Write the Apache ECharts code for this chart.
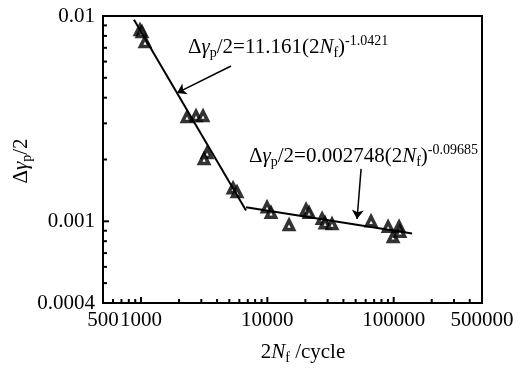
<!DOCTYPE html>
<html>
<head>
<meta charset="utf-8">
<script src="https://cdn.jsdelivr.net/npm/echarts@6/dist/echarts.min.js"></script>
<style>html,body{margin:0;padding:0;background:#fff}#c{width:532px;height:370px}</style>
</head>
<body>
<div id="c"></div>
<script>
// ---- data ----
const cycles = [982, 1018, 1075, 2312, 2725, 3097, 3330, 3155, 5350, 5754, 9940, 10690, 14850, 20240, 21370, 27100, 28640, 32500, 66200, 90300, 98900, 110300, 112200];
const strain = [0.00855, 0.00836, 0.00747, 0.00322, 0.00326, 0.00326, 0.00215, 0.00201, 0.00145, 0.00139, 0.00117, 0.00110, 0.00096, 0.00114, 0.00110, 0.00103, 0.00098, 0.00097, 0.00100, 0.00094, 0.00084, 0.00094, 0.00089];
const fit1X = [880, 6780];
const fit1Y = [0.0096, 0.00113];
const fit2X = [6780, 139800];
const fit2Y = [0.00117, 0.000872];
const arrow1 = [[5158, 0.00571], [1927, 0.00422]];
const arrow2 = [[55200, 0.0018], [51300, 0.001026]];
const xTickValues = [500, 1000, 10000, 100000, 500000];
const xTickLabels = ['500', '1000', '10000', '100000', '500000'];
const xMinorTicks = [600, 700, 800, 900, 2000, 3000, 4000, 5000, 6000, 7000, 8000, 9000, 20000, 30000, 40000, 50000, 60000, 70000, 80000, 90000, 200000, 300000, 400000];
const yTickValues = [0.0004, 0.001, 0.01];
const yTickLabels = ['0.0004', '0.001', '0.01'];
const yMinorTicks = [0.0005, 0.0006, 0.0007, 0.0008, 0.0009, 0.002, 0.003, 0.004, 0.005, 0.006, 0.007, 0.008, 0.009];

const FONT = 'Liberation Serif';
const X_MIN = xTickValues[0], X_MAX = xTickValues[xTickValues.length - 1];
const Y_MIN = yTickValues[0], Y_MAX = yTickValues[yTickValues.length - 1];

function labelFor(vals, labels) {
  return function (v) {
    let best = 0, bd = Infinity;
    for (let i = 0; i < vals.length; i++) {
      const d = Math.abs(Math.log10(v) - Math.log10(vals[i]));
      if (d < bd) { bd = d; best = i; }
    }
    return labels[best];
  };
}
const rich = {
  n: {fontFamily: FONT, fontSize: 21, lineHeight: 26, color: '#000'},
  i: {fontFamily: FONT, fontSize: 21, lineHeight: 26, fontStyle: 'italic', color: '#000'},
  sub: {fontFamily: FONT, fontSize: 14, lineHeight: 14, verticalAlign: 'bottom', color: '#000'},
  sup: {fontFamily: FONT, fontSize: 14, lineHeight: 14, verticalAlign: 'top', color: '#000'}
};

// tick marks drawn through the axes' own scales
function tickSeries(values, isX, len) {
  return {
    type: 'custom', xAxisIndex: 0, yAxisIndex: 0, silent: true, z: 5, clip: false,
    data: values.map(v => isX ? [v, Y_MIN] : [X_MIN, v]),
    renderItem: function (params, api) {
      const p = api.coord([api.value(0), api.value(1)]);
      const shape = isX ? {x1: p[0], y1: p[1], x2: p[0], y2: p[1] - len}
                        : {x1: p[0], y1: p[1], x2: p[0] + len, y2: p[1]};
      return {type: 'line', shape: shape, style: {stroke: '#000', lineWidth: 2}};
    }
  };
}

const chart = echarts.init(document.getElementById('c'), null, {renderer: 'canvas'});
chart.setOption({
  animation: false,
  backgroundColor: '#fff',
  grid: {left: 103, right: 50, top: 16, bottom: 67, show: true, borderColor: '#000', borderWidth: 2, backgroundColor: 'transparent'},
  xAxis: {
    type: 'log', logBase: 10, min: X_MIN, max: X_MAX, position: 'bottom',
    splitLine: {show: false},
    axisLine: {lineStyle: {color: '#000', width: 2}},
    axisTick: {show: false},
    axisLabel: {customValues: xTickValues, formatter: labelFor(xTickValues, xTickLabels), fontFamily: FONT, fontSize: 21, color: '#000', margin: 7, showMinLabel: true, showMaxLabel: true}
  },
  yAxis: {
    type: 'log', logBase: 10, min: Y_MIN, max: Y_MAX, position: 'left',
    splitLine: {show: false},
    axisLine: {lineStyle: {color: '#000', width: 2}},
    axisTick: {show: false},
    axisLabel: {customValues: yTickValues, formatter: labelFor(yTickValues, yTickLabels), fontFamily: FONT, fontSize: 21, color: '#000', margin: 8, showMinLabel: true, showMaxLabel: true}
  },
  series: [
    {
      type: 'scatter', xAxisIndex: 0, yAxisIndex: 0,
      data: cycles.map((c, i) => [c, strain[i]]),
      symbol: 'triangle', symbolSize: [9, 9],
      itemStyle: {color: '#fff', borderColor: '#000', borderWidth: 3.6},
      z: 2
    },
    {
      type: 'line', xAxisIndex: 0, yAxisIndex: 0,
      data: fit1X.map((x, i) => [x, fit1Y[i]]),
      symbol: 'none', lineStyle: {color: '#000', width: 2}, z: 3,
      markLine: {
        silent: true, symbol: ['none', 'arrow'], symbolSize: 9,
        label: {show: false},
        lineStyle: {color: '#000', width: 1.5, type: 'solid'},
        data: [
          [{coord: arrow1[0]}, {coord: arrow1[1]}],
          [{coord: arrow2[0]}, {coord: arrow2[1]}]
        ]
      }
    },
    {
      type: 'line', xAxisIndex: 0, yAxisIndex: 0,
      data: fit2X.map((x, i) => [x, fit2Y[i]]),
      symbol: 'none', lineStyle: {color: '#000', width: 2}, z: 3
    },
    tickSeries(xTickValues, true, 6),
    tickSeries(xMinorTicks, true, 4),
    tickSeries(yTickValues, false, 6),
    tickSeries(yMinorTicks, false, 4)
  ],
  graphic: [
    {type: 'text', x: 188, y: 34, style: {text: '{n|Δ}{i|γ}{sub|p}{n|/2=11.161(2}{i|N}{sub|f}{n|)}{sup|-1.0421}', rich: rich, align: 'left', verticalAlign: 'top'}},
    {type: 'text', x: 249, y: 143, style: {text: '{n|Δ}{i|γ}{sub|p}{n|/2=0.002748(2}{i|N}{sub|f}{n|)}{sup|-0.09685}', rich: rich, align: 'left', verticalAlign: 'top'}},
    {type: 'text', x: 21, y: 161, rotation: Math.PI / 2, style: {text: '{n|Δ}{i|γ}{sub|p}{n|/2}', rich: rich, align: 'center', verticalAlign: 'middle'}},
    {type: 'text', x: 303, y: 352, style: {text: '{n|2}{i|N}{sub|f}{n| /cycle}', rich: rich, align: 'center', verticalAlign: 'middle'}}
  ]
});
</script>
</body>
</html>
